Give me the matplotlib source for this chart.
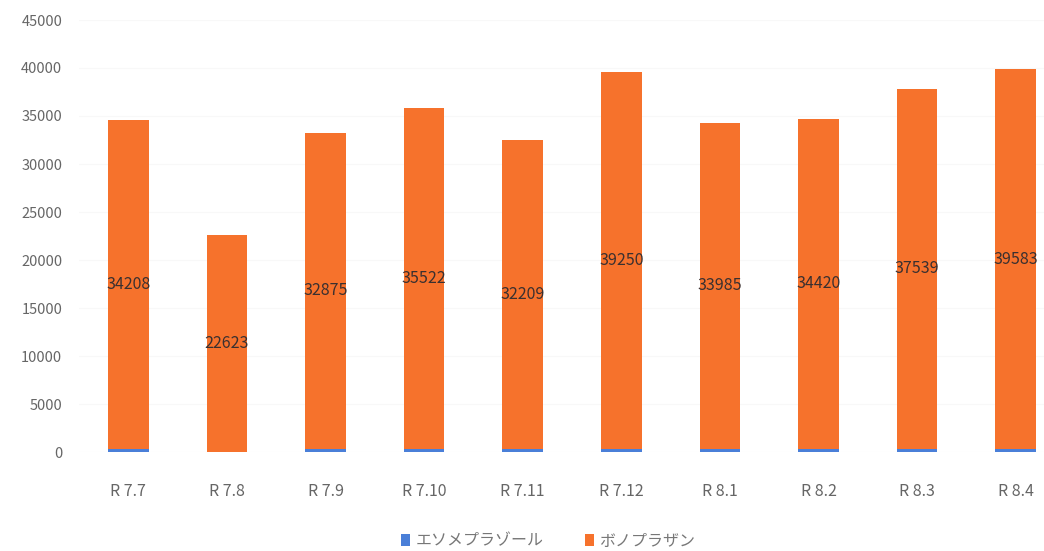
import matplotlib
matplotlib.use("Agg")
import matplotlib.pyplot as plt
import numpy as np

plt.rcParams['font.family'] = ['Noto Sans CJK JP', 'DejaVu Sans']

categories = ["R 7.7", "R 7.8", "R 7.9", "R 7.10", "R 7.11", "R 7.12", "R 8.1", "R 8.2", "R 8.3", "R 8.4"]
esomeprazole = [350, 0, 350, 350, 300, 300, 300, 300, 300, 300]
vonoprazan = [34208, 22623, 32875, 35522, 32209, 39250, 33985, 34420, 37539, 39583]
series_names = ["エソメプラゾール", "ボノプラザン"]
yticks = [0, 5000, 10000, 15000, 20000, 25000, 30000, 35000, 40000, 45000]

blue = "#4A7FD8"
orange = "#F6722C"

fig = plt.figure(figsize=(10.44, 5.51), dpi=100)
ax = fig.add_axes([79/1044, 99/551, (1044-79)/1044, (452-20)/551])

x = np.arange(len(categories))
w = 0.41
b1 = ax.bar(x, esomeprazole, w, color=blue, label=series_names[0], zorder=3)
b2 = ax.bar(x, vonoprazan, w, bottom=esomeprazole, color=orange, label=series_names[1], zorder=3)

for xi, base, v in zip(x, esomeprazole, vonoprazan):
    ax.text(xi, base + v / 2, str(v), ha="center", va="center", fontsize=11.5,
            color="#3a3030", zorder=4)

ax.set_xlim(-0.5, -0.5 + (1044-79)/98.6)
ax.set_ylim(0, 45000)
ax.set_yticks(yticks)
ax.set_yticklabels([str(t) for t in yticks], fontsize=10.5, color="#666666")
ax.set_xticks(x)
ax.set_xticklabels(categories, fontsize=11.5, color="#666666")
ax.tick_params(axis="both", length=0)
ax.tick_params(axis="x", pad=22)
ax.tick_params(axis="y", pad=12)
ax.grid(axis="y", color="#f8f8f8", linewidth=0.8, zorder=0)
for s in ax.spines.values():
    s.set_visible(False)

fig.legend(handles=[b1, b2], labels=series_names, loc="center",
           bbox_to_anchor=(548/1044, 1 - 541/551), ncol=2, frameon=False,
           fontsize=11.5, handlelength=0.6, handleheight=0.8, columnspacing=2.6,
           handletextpad=0.3, labelcolor="#777777")

fig.savefig("out.png", dpi=100)
